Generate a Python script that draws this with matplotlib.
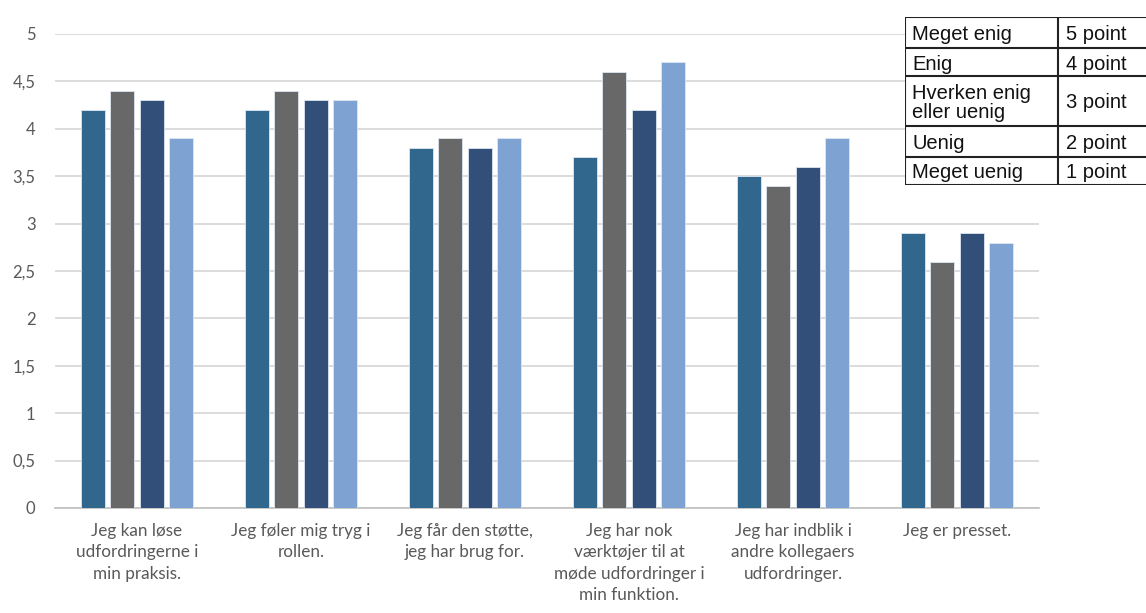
import matplotlib.pyplot as plt
import numpy as np

# Spørgsmål og gennemsnitlige svar (4 grupper pr. spørgsmål)
categories = [
    "Jeg kan løse\nudfordringerne i\nmin praksis.",
    "Jeg føler mig tryg i\nrollen.",
    "Jeg får den støtte,\njeg har brug for.",
    "Jeg har nok\nværktøjer til at\nmøde udfordringer i\nmin funktion.",
    "Jeg har indblik i\nandre kollegaers\nudfordringer.",
    "Jeg er presset.",
]
serie_1 = [4.2, 4.2, 3.8, 3.7, 3.5, 2.9]
serie_2 = [4.4, 4.4, 3.9, 4.6, 3.4, 2.6]
serie_3 = [4.3, 4.3, 3.8, 4.2, 3.6, 2.9]
serie_4 = [3.9, 4.3, 3.9, 4.7, 3.9, 2.8]
colors = ["#31678C", "#686868", "#324F7A", "#7EA3D3"]

# Pointskala til tabellen
scale_labels = ["Meget enig", "Enig", "Hverken enig\neller uenig", "Uenig", "Meget uenig"]
scale_points = ["5 point", "4 point", "3 point", "2 point", "1 point"]
row_heights = [31, 28, 50, 31, 28]

yticks = np.arange(0, 5.01, 0.5)
ytick_labels = [f"{v:g}".replace(".", ",") for v in yticks]

plt.rcParams["font.family"] = ["Lato", "DejaVu Sans"]

fig = plt.figure(figsize=(11.46, 6.13), dpi=100)
ax = fig.add_axes([55 / 1146, 1 - 508 / 613, (1039 - 55) / 1146, (508 - 34) / 613])

x = np.arange(len(categories))
step = 0.18
width = 0.145
for i, vals in enumerate([serie_1, serie_2, serie_3, serie_4]):
    ax.bar(x + (i - 1.5) * step, vals, width=width, color=colors[i],
           edgecolor="#DDE6F0", linewidth=0.6, zorder=3)

ax.set_xlim(-0.5, len(categories) - 0.5)
ax.set_ylim(0, 5)
ax.set_yticks(yticks)
ax.set_yticklabels(ytick_labels, fontsize=12, color="#595959")
ax.set_xticks(x)
ax.set_xticklabels(categories, fontsize=12.3, color="#595959", linespacing=1.4)
ax.tick_params(axis="both", length=0)
ax.tick_params(axis="y", pad=14)
ax.tick_params(axis="x", pad=11)
ax.yaxis.grid(True, color="#D9D9D9", linewidth=1.3, zorder=0)
ax.set_axisbelow(True)
for s in ["top", "right", "left"]:
    ax.spines[s].set_visible(False)
ax.spines["bottom"].set_color("#BFBFBF")
ax.spines["bottom"].set_linewidth(1.2)

# Tabel med pointskala oppe til højre (pixelkoordinater)
top, left, mid, right = 17, 905, 1058, 1170
total = sum(row_heights)
tax = fig.add_axes([left / 1146, 1 - (top + total) / 613, (right - left) / 1146, total / 613])
tax.set_xlim(left, right)
tax.set_ylim(top + total, top)
tax.axis("off")
tax.add_patch(plt.Rectangle((left, top), right - left, total, facecolor="white",
                            edgecolor="#222222", linewidth=1.5, zorder=1))
tax.plot([mid, mid], [top, top + total], color="#222222", linewidth=1.5, zorder=2)
tfont = ["Liberation Sans", "DejaVu Sans"]
y0 = top
for lab, pts, h in zip(scale_labels, scale_points, row_heights):
    if y0 > top:
        tax.plot([left, right], [y0, y0], color="#222222", linewidth=1.5, zorder=2)
    yc = y0 + h / 2 + 2
    tax.text(left + 7, yc, lab, fontsize=14.5, family=tfont,
             va="center", ha="left", color="#111111", linespacing=0.95, zorder=3)
    tax.text(mid + 8, yc, pts, fontsize=14.5, family=tfont,
             va="center", ha="left", color="#111111", zorder=3)
    y0 += h

fig.savefig("out.png", dpi=100)
